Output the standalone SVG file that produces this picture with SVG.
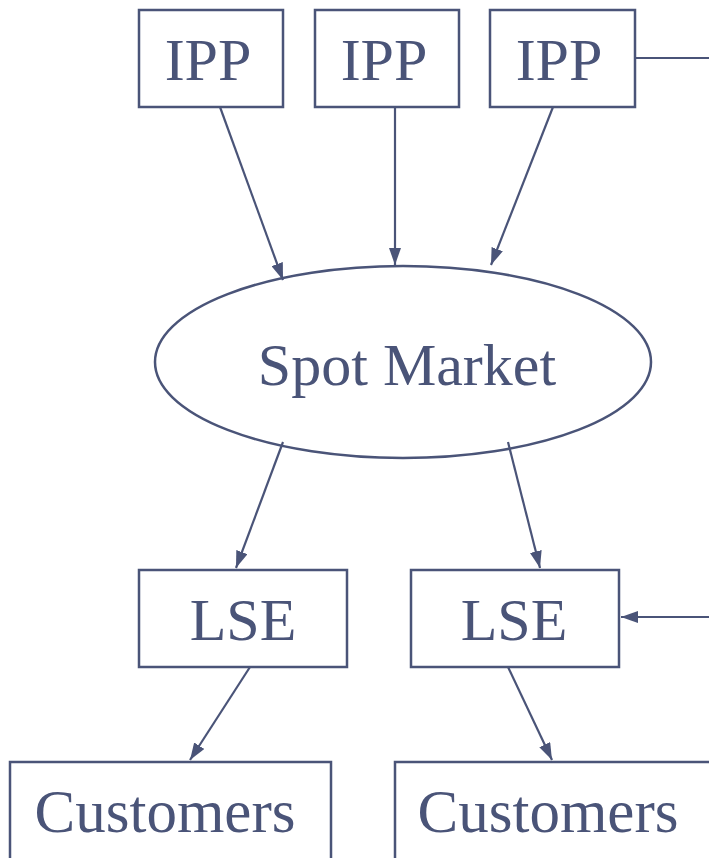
<svg xmlns="http://www.w3.org/2000/svg" width="709" height="858" viewBox="0 0 709 858">
<style>
.box{fill:#fff;stroke:#4a5478;stroke-width:2.5}
.lbl{font-family:"Liberation Serif","DejaVu Serif",serif;fill:#4a5478;text-anchor:middle}
.edge{stroke:#4a5478;stroke-width:2.2;fill:none}
</style>
<defs>
<marker id="ah" viewBox="0 0 17 12" refX="17" refY="6" markerWidth="17" markerHeight="12" markerUnits="userSpaceOnUse" orient="auto"><path d="M0,0 L17,6 L0,12 z" fill="#4a5478"/></marker>
</defs>
<rect width="709" height="858" fill="#fff"/>
<g id="ipp1"><rect class="box" x="139" y="10" width="144" height="97"/><text class="lbl" x="208" y="80" font-size="60">IPP</text></g>
<g id="ipp2"><rect class="box" x="315" y="10" width="144" height="97"/><text class="lbl" x="384" y="80" font-size="60">IPP</text></g>
<g id="ipp3"><rect class="box" x="490" y="10" width="145" height="97"/><text class="lbl" x="559" y="80" font-size="60">IPP</text></g>
<g id="spot"><ellipse class="box" cx="403" cy="362" rx="248" ry="96"/><text class="lbl" x="407" y="385" font-size="60">Spot Market</text></g>
<g id="lse1"><rect class="box" x="139" y="570" width="208" height="97"/><text class="lbl" x="243" y="640" font-size="60">LSE</text></g>
<g id="lse2"><rect class="box" x="411" y="570" width="208" height="97"/><text class="lbl" x="514" y="640" font-size="60">LSE</text></g>
<g id="cust1"><rect class="box" x="10" y="762" width="321" height="110"/><text class="lbl" x="165" y="832" font-size="61">Customers</text></g>
<g id="cust2"><rect class="box" x="395" y="762" width="330" height="110"/><text class="lbl" x="548" y="832" font-size="61">Customers</text></g>
<g id="connectors">
<line class="edge" x1="220" y1="107" x2="283" y2="280" marker-end="url(#ah)"/>
<line class="edge" x1="395" y1="107" x2="395" y2="265" marker-end="url(#ah)"/>
<line class="edge" x1="553" y1="107" x2="491" y2="265" marker-end="url(#ah)"/>
<line class="edge" x1="635" y1="58" x2="709" y2="58"/>
<line class="edge" x1="283" y1="442" x2="236" y2="568" marker-end="url(#ah)"/>
<line class="edge" x1="508" y1="442" x2="540" y2="568" marker-end="url(#ah)"/>
<line class="edge" x1="709" y1="617" x2="621" y2="617" marker-end="url(#ah)"/>
<line class="edge" x1="250" y1="667" x2="190" y2="760" marker-end="url(#ah)"/>
<line class="edge" x1="508" y1="667" x2="552" y2="760" marker-end="url(#ah)"/>
</g>
</svg>
